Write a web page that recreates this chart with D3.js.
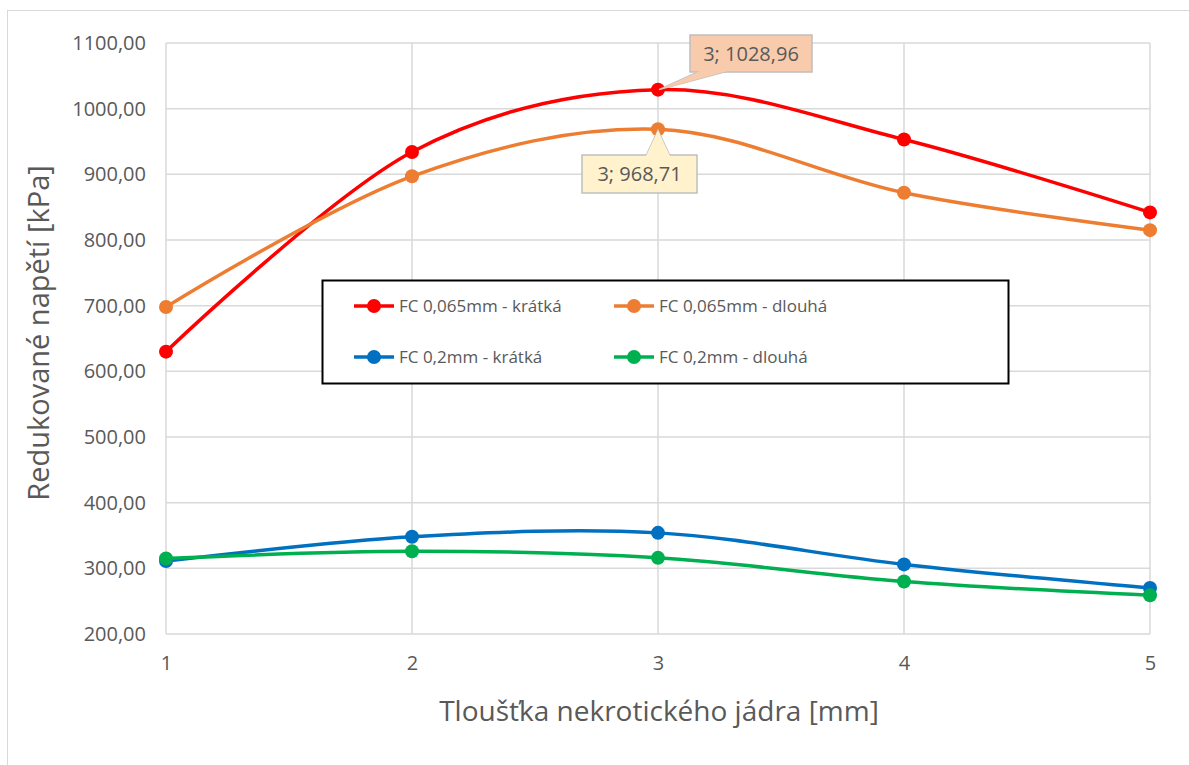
<!DOCTYPE html>
<html>
<head>
<meta charset="utf-8">
<script src="https://cdn.jsdelivr.net/npm/d3@7"></script>
<style>
  body { margin: 0; background: #fff; }
  svg { display: block; font-family: "Open Sans", sans-serif; }
</style>
</head>
<body>
<svg id="chart" width="1189" height="765"></svg>
<script>
// data
var thickness = [1, 2, 3, 4, 5];
var yTicks = [200, 300, 400, 500, 600, 700, 800, 900, 1000, 1100];

var fc065short = [630, 934, 1028.96, 953, 842];
var fc065long  = [698, 897, 968.71, 872, 815];
var fc02short  = [311, 348, 354, 306, 270];
var fc02long   = [315, 326, 316, 280, 259];

var seriesNames  = ["FC 0,065mm - krátká", "FC 0,065mm - dlouhá", "FC 0,2mm - krátká", "FC 0,2mm - dlouhá"];
var seriesColors = ["#ff0000", "#ed7d31", "#0070c0", "#00b050"];
var seriesValues = [fc065short, fc065long, fc02short, fc02long];

var svg = d3.select("svg#chart");

// chart frame
svg.append("rect")
  .attr("x", 7.5).attr("y", 10.5)
  .attr("width", 1200).attr("height", 800)
  .attr("fill", "#fff")
  .attr("stroke", "#d9d9d9");

var plotLeft = 166, plotRight = 1150, plotTop = 43, plotBottom = 634;

var x = d3.scaleLinear().domain([1, 5]).range([plotLeft, plotRight]);
var y = d3.scaleLinear().domain([200, 1100]).range([plotBottom, plotTop]);

var fmt = function(v) { return d3.format(".2f")(v).replace(".", ","); };

// gridlines
svg.append("g").selectAll("line.hgrid")
  .data(yTicks)
  .enter().append("line")
  .attr("class", "hgrid")
  .attr("x1", plotLeft).attr("x2", plotRight)
  .attr("y1", d => y(d)).attr("y2", d => y(d))
  .attr("stroke", "#d9d9d9").attr("stroke-width", 1.5);

svg.append("g").selectAll("line.vgrid")
  .data(thickness)
  .enter().append("line")
  .attr("class", "vgrid")
  .attr("x1", d => x(d)).attr("x2", d => x(d))
  .attr("y1", plotTop).attr("y2", plotBottom)
  .attr("stroke", "#d9d9d9").attr("stroke-width", 1.5);

// axes (labels only)
var yAxis = svg.append("g")
  .attr("transform", "translate(" + plotLeft + ",0)")
  .call(d3.axisLeft(y).tickValues(yTicks).tickFormat(fmt).tickSize(0).tickPadding(20));
yAxis.select(".domain").remove();
yAxis.selectAll("text")
  .attr("font-family", "Open Sans").attr("font-size", 20).attr("fill", "#595959");

var xAxis = svg.append("g")
  .attr("transform", "translate(0," + plotBottom + ")")
  .call(d3.axisBottom(x).tickValues(thickness).tickFormat(d3.format("d")).tickSize(0).tickPadding(22));
xAxis.select(".domain").remove();
xAxis.selectAll("text")
  .attr("font-family", "Open Sans").attr("font-size", 20).attr("fill", "#595959");

// axis titles
svg.append("text")
  .attr("x", 659).attr("y", 721)
  .attr("text-anchor", "middle")
  .attr("font-size", 28).attr("fill", "#595959")
  .text("Tloušťka nekrotického jádra [mm]");

svg.append("text")
  .attr("transform", "translate(49,333) rotate(-90)")
  .attr("text-anchor", "middle")
  .attr("font-size", 29).attr("fill", "#595959")
  .text("Redukované napětí [kPa]");

// lines
var line = d3.line()
  .x((d, i) => x(thickness[i]))
  .y(d => y(d))
  .curve(d3.curveCardinal.tension(0));

var seriesG = svg.selectAll("g.series")
  .data(seriesValues)
  .enter().append("g")
  .attr("class", "series");

seriesG.append("path")
  .attr("d", d => line(d))
  .attr("fill", "none")
  .attr("stroke", (d, i) => seriesColors[i])
  .attr("stroke-width", 3.5);

seriesG.each(function(vals, si) {
  d3.select(this).selectAll("circle")
    .data(vals)
    .enter().append("circle")
    .attr("cx", (d, i) => x(thickness[i]))
    .attr("cy", d => y(d))
    .attr("r", 7)
    .attr("fill", seriesColors[si]);
});

// callouts
function callout(val, bx, by, bw, bh, fill, pointer) {
  var g = svg.append("g");
  var px = x(3), py = y(val);
  g.append("path")
    .attr("d", pointer(px, py))
    .attr("fill", fill)
    .attr("stroke", "#bfbfbf").attr("stroke-width", 1.5);
  g.append("rect")
    .attr("x", bx).attr("y", by).attr("width", bw).attr("height", bh)
    .attr("fill", fill)
    .attr("stroke", "#bfbfbf").attr("stroke-width", 1.5);
  // cover pointer base seam
  g.append("path")
    .attr("d", pointer(px, py))
    .attr("fill", fill).attr("stroke", "none");
  g.append("text")
    .attr("x", bx + bw / 2).attr("y", by + bh / 2 + 7)
    .attr("text-anchor", "middle")
    .attr("font-size", 20).attr("fill", "#595959")
    .text("3; " + fmt(val));
}

callout(fc065short[2], 690, 35, 122, 37, "#f8cbad", function(px, py) {
  return "M" + (px + 1) + "," + py + "L700,71L728,71Z";
});
callout(fc065long[2], 582, 155, 115, 38, "#fff2cc", function(px, py) {
  return "M" + px + "," + (py + 1) + "L646,156L670,156Z";
});

// legend
var legend = svg.append("g");
legend.append("rect")
  .attr("x", 322.5).attr("y", 280.5)
  .attr("width", 686).attr("height", 103)
  .attr("fill", "#fff")
  .attr("stroke", "#000").attr("stroke-width", 2);

var legItems = legend.selectAll("g.item")
  .data(seriesNames)
  .enter().append("g")
  .attr("class", "item")
  .attr("transform", (d, i) => "translate(" + (354 + (i % 2) * 260) + "," + (306 + Math.floor(i / 2) * 51) + ")");

legItems.append("line")
  .attr("x1", 0).attr("x2", 40)
  .attr("stroke", (d, i) => seriesColors[i])
  .attr("stroke-width", 3.5);
legItems.append("circle")
  .attr("cx", 20).attr("r", 7)
  .attr("fill", (d, i) => seriesColors[i]);
legItems.append("text")
  .attr("x", 45).attr("y", 6)
  .attr("font-size", 17).attr("fill", "#595959")
  .text(d => d);
</script>
</body>
</html>
